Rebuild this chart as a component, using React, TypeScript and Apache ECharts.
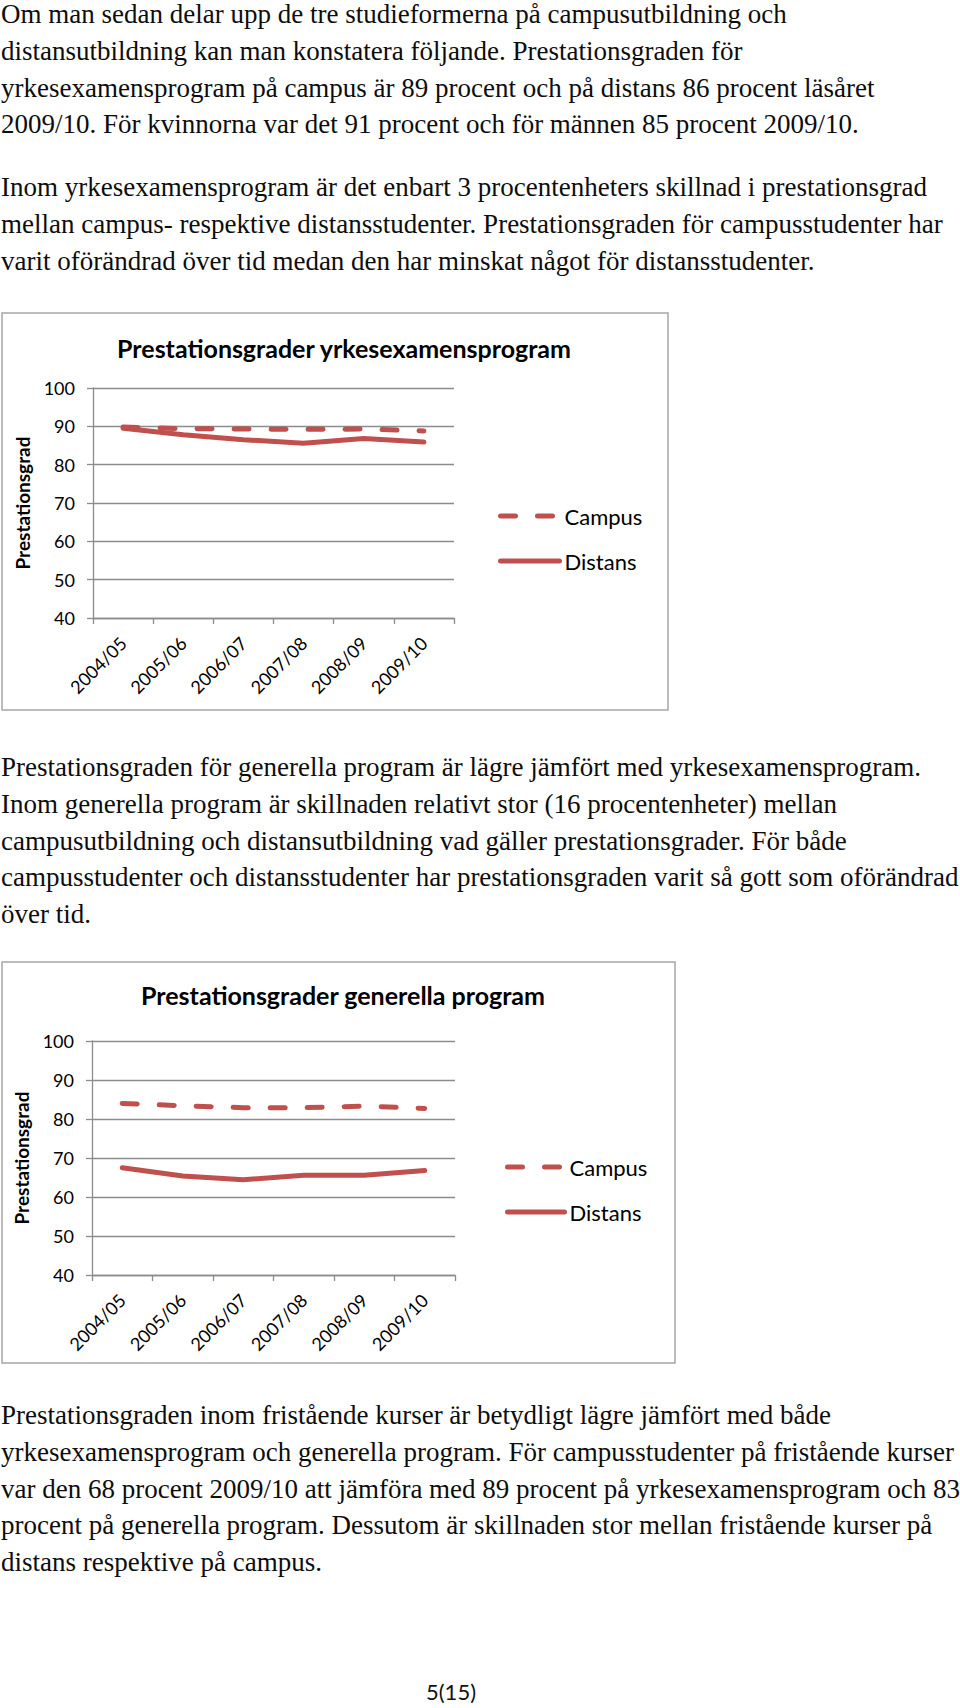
import React, { useEffect, useRef } from "react";
import * as echarts from "echarts";

const categories = ["2004/05", "2005/06", "2006/07", "2007/08", "2008/09", "2009/10"];
const yrkeCampus = [89.8, 89.4, 89.3, 89.2, 89.3, 88.8];
const yrkeDistans = [89.5, 87.8, 86.5, 85.6, 86.8, 85.9];
const genCampus = [84.0, 83.4, 82.9, 82.9, 83.3, 82.7];
const genDistans = [67.5, 65.4, 64.4, 65.6, 65.6, 66.8];
const yTicks = { min: 40, max: 100, interval: 10 };
const seriesNames = ["Campus", "Distans"];
const chartTitles = ["Prestationsgrader yrkesexamensprogram", "Prestationsgrader generella program"];
const yAxisName = "Prestationsgrad";

const para1 = [
  "Om man sedan delar upp de tre studieformerna på campusutbildning och",
  "distansutbildning kan man konstatera följande. Prestationsgraden för",
  "yrkesexamensprogram på campus är 89 procent och på distans 86 procent läsåret",
  "2009/10. För kvinnorna var det 91 procent och för männen 85 procent 2009/10.",
];
const para2 = [
  "Inom yrkesexamensprogram är det enbart 3 procentenheters skillnad i prestationsgrad",
  "mellan campus- respektive distansstudenter. Prestationsgraden för campusstudenter har",
  "varit oförändrad över tid medan den har minskat något för distansstudenter.",
];
const para3 = [
  "Prestationsgraden för generella program är lägre jämfört med yrkesexamensprogram.",
  "Inom generella program är skillnaden relativt stor (16 procentenheter) mellan",
  "campusutbildning och distansutbildning vad gäller prestationsgrader. För både",
  "campusstudenter och distansstudenter har prestationsgraden varit så gott som oförändrad",
  "över tid.",
];
const para4 = [
  "Prestationsgraden inom fristående kurser är betydligt lägre jämfört med både",
  "yrkesexamensprogram och generella program. För campusstudenter på fristående kurser",
  "var den 68 procent 2009/10 att jämföra med 89 procent på yrkesexamensprogram och 83",
  "procent på generella program. Dessutom är skillnaden stor mellan fristående kurser på",
  "distans respektive på campus.",
];
const pageNumber = "5(15)";

const RED = "#c0504d";
const GRID = "#8c8c8c";
const LINE_H = 36.8;

function textLines(lines: string[], baseline: number) {
  return lines.map((t, i) => ({
    type: "text",
    x: 1,
    y: baseline + i * LINE_H - 9,
    style: {
      text: t,
      fontSize: 27,
      fontFamily: "Liberation Serif",
      fill: "#0d0d0d",
      verticalAlign: "middle",
    },
  }));
}

function buildOption() {
  const grids = [
    { left: 93, top: 388, width: 361, height: 230 },
    { left: 92, top: 1041, width: 363, height: 234 },
  ];
  const xAxis = grids.map((_, i) => ({
    type: "category",
    gridIndex: i,
    data: categories,
    boundaryGap: true,
    axisLine: { lineStyle: { color: GRID, width: 1.3 } },
    axisTick: { show: true, length: 6, lineStyle: { color: GRID, width: 1.3 } },
    axisLabel: { rotate: 45, margin: 22, interval: 0, fontFamily: "Lato", fontSize: 18, color: "#000" },
  }));
  const yAxis = grids.map((_, i) => ({
    type: "value",
    gridIndex: i,
    min: yTicks.min,
    max: yTicks.max,
    interval: yTicks.interval,
    name: yAxisName,
    nameLocation: "middle",
    nameGap: 61,
    nameTextStyle: { fontFamily: "Lato", fontWeight: "bold", fontSize: 19, color: "#000" },
    axisLine: { show: true, lineStyle: { color: GRID, width: 1.3 } },
    axisTick: { show: true, length: 6, lineStyle: { color: GRID, width: 1.3 } },
    splitLine: { show: true, lineStyle: { color: GRID, width: 1.3 } },
    axisLabel: { margin: 18, fontFamily: "Lato", fontSize: 18, color: "#000" },
  }));
  const lineBase = (name: string, data: number[], idx: number, dashed: boolean) => ({
    type: "line",
    name,
    xAxisIndex: idx,
    yAxisIndex: idx,
    data,
    symbol: "none",
    showSymbol: false,
    lineStyle: {
      color: RED,
      width: 5,
      type: dashed ? [15, 22] : "solid",
      cap: "round",
      join: "round",
    },
    itemStyle: { color: RED },
  });
  const series = [
    lineBase(seriesNames[1], yrkeDistans, 0, false),
    lineBase(seriesNames[0], yrkeCampus, 0, true),
    lineBase(seriesNames[1], genDistans, 1, false),
    lineBase(seriesNames[0], genCampus, 1, true),
  ];
  const legendCommon = {
    data: seriesNames,
    orient: "vertical",
    itemWidth: 59,
    itemHeight: 22,
    itemGap: 23,
    selectedMode: false,
    itemStyle: { opacity: 0, borderWidth: 0 },
    lineStyle: { width: 5, opacity: 1 },
    textStyle: { fontFamily: "Lato", fontSize: 22, color: "#000" },
  };
  return {
    animation: false,
    backgroundColor: "#fff",
    title: [
      {
        text: chartTitles[0],
        left: 339,
        top: 330,
        textAlign: "center",
        textStyle: { fontFamily: "Lato", fontWeight: "bold", fontSize: 25, color: "#000" },
      },
      {
        text: chartTitles[1],
        left: 338,
        top: 977,
        textAlign: "center",
        textStyle: { fontFamily: "Lato", fontWeight: "bold", fontSize: 25, color: "#000" },
      },
    ],
    legend: [
      { ...legendCommon, left: 493, top: 500 },
      { ...legendCommon, left: 500, top: 1151, itemWidth: 57 },
    ],
    grid: grids,
    xAxis,
    yAxis,
    series,
    graphic: [
      {
        type: "rect",
        shape: { x: 2, y: 313, width: 666, height: 397 },
        style: { fill: "none", stroke: "#a6a6a6", lineWidth: 1.5 },
        silent: true,
      },
      {
        type: "rect",
        shape: { x: 2, y: 962, width: 673, height: 401 },
        style: { fill: "none", stroke: "#a6a6a6", lineWidth: 1.5 },
        silent: true,
      },
      ...textLines(para1, 23),
      ...textLines(para2, 196),
      ...textLines(para3, 776),
      ...textLines(para4, 1424),
      {
        type: "text",
        x: 451,
        y: 1691,
        style: {
          text: pageNumber,
          fontSize: 22,
          fontFamily: "Lato",
          fill: "#111",
          align: "center",
          verticalAlign: "middle",
        },
      },
    ],
  };
}

export default function App() {
  const ref = useRef<HTMLDivElement>(null);
  useEffect(() => {
    if (!ref.current) return;
    const chart = echarts.init(ref.current, null, { renderer: "svg" });
    chart.setOption(buildOption() as any);
    return () => chart.dispose();
  }, []);
  return (
    <div
      ref={ref}
      style={{ position: "absolute", left: 0, top: 0, width: 960, height: 1708, background: "#fff" }}
    />
  );
}
